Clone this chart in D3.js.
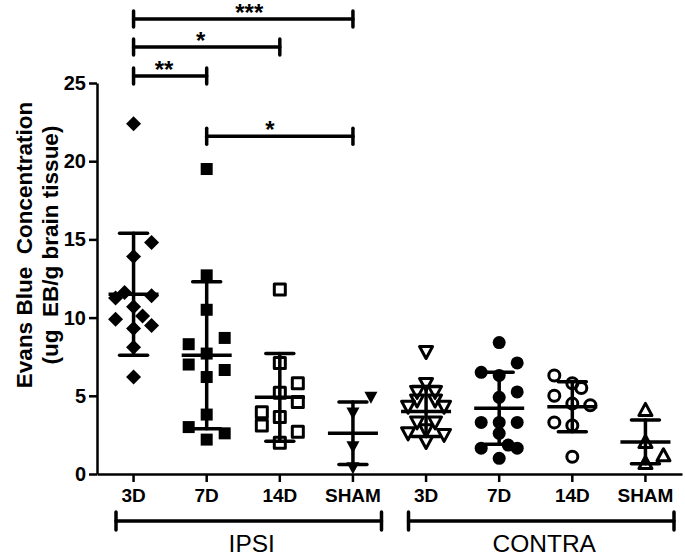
<!DOCTYPE html>
<html><head><meta charset="utf-8">
<script src="https://cdn.jsdelivr.net/npm/d3@7"></script>
<style>html,body{margin:0;padding:0;background:#fff}svg{display:block}</style>
</head><body><svg id="c" width="685" height="557"></svg>
<script>
// ---- data ----
const groups = ["IPSI", "CONTRA"];
const categories = ["IPSI-3D","IPSI-7D","IPSI-14D","IPSI-SHAM","CONTRA-3D","CONTRA-7D","CONTRA-14D","CONTRA-SHAM"];
const categoryLabels = ["3D","7D","14D","SHAM","3D","7D","14D","SHAM"];
const yTicks = [0,5,10,15,20,25];
// [value, column slot]
const ipsi3D = [[22.4,0],[14.8,2],[13.9,0],[11.6,-1],[11.25,-2],[11.4,2],[10.7,0],[9.9,-2],[10.1,1],[9.5,2],[9.3,0],[8.1,0],[6.2,0]];
const ipsi7D = [[19.5,0],[12.7,0],[10.5,0],[8.3,-2],[8.7,2],[7.7,0],[7.0,-2],[6.65,2],[6.2,0],[3.8,0],[3.0,-2],[2.6,2],[2.2,0]];
const ipsi14D = [[11.8,0],[7.1,0],[5.8,2],[5.2,0],[4.6,2],[3.95,-2],[3.65,0],[3.1,-2],[2.7,2],[2.0,0]];
const ipsiSham = [[4.9,2],[3.9,0],[1.75,0],[0.4,0]];
const contra3D = [[7.8,0],[5.75,0],[5.25,-1],[5.25,1],[4.7,-1],[4.7,1],[4.3,-2],[4.3,2],[3.3,-1],[3.3,1],[2.6,-2],[2.8,0],[2.5,2],[2.05,0]];
const contra7D = [[8.4,0],[7.1,2],[6.5,-2],[6.3,0],[5.25,2],[4.9,0],[3.3,-2],[3.3,0],[3.3,2],[2.6,0],[1.65,-2],[1.85,1],[1.65,2],[1.0,0]];
const contra14D = [[6.3,-2],[5.8,0],[5.5,1],[5.0,-2],[4.4,2],[4.5,0],[3.3,-2],[3.1,0],[1.1,0]];
const contraSham = [[4.1,0],[2.05,0],[1.2,2],[0.7,0]];
const seriesValues = [ipsi3D, ipsi7D, ipsi14D, ipsiSham, contra3D, contra7D, contra14D, contraSham];
const markers = ["diamond","square","squareOpen","triDown","triDownOpen","circle","circleOpen","triUpOpen"];
const means = [11.5, 7.6, 4.9, 2.6, 4.0, 4.2, 4.3, 2.05];
const sds = [3.9, 4.7, 2.8, 2.0, 1.6, 2.3, 1.6, 1.4];
const sigFrom = ["IPSI-3D","IPSI-3D","IPSI-3D","IPSI-7D"];
const sigTo = ["IPSI-SHAM","IPSI-14D","IPSI-7D","IPSI-SHAM"];
const sigLabels = ["***","*","**","*"];
const sigLevels = [29.1, 27.3, 25.45, 21.6];
const yTitle = ["Evans Blue  Concentration", "(ug  EB/g brain tissue)"];

// ---- layout ----
const svg = d3.select("#c");
const FONT = "'Liberation Sans', Arial, sans-serif";
const x = d3.scaleBand().domain(categories).range([97, 682]);
const y = d3.scaleLinear().domain([0, 25]).range([474, 83]);
const cx = c => x(c) + x.bandwidth() / 2;
const slot = 9;

// y axis
const ya = svg.append("g").attr("transform", "translate(97,0)")
  .call(d3.axisLeft(y).tickValues(yTicks).tickSize(8).tickSizeOuter(0).tickPadding(3));
ya.select(".domain").attr("stroke-width", 2.5);
ya.selectAll(".tick line").attr("stroke-width", 2.5);
ya.selectAll("text").attr("font-family", FONT).attr("font-weight", "bold").attr("font-size", 20).attr("fill","#000");

// x axis
const xa = svg.append("g").attr("transform", "translate(0,474)")
  .call(d3.axisBottom(x).tickSize(8).tickSizeOuter(0).tickPadding(7).tickFormat((d,i) => categoryLabels[i]));
xa.select(".domain").attr("stroke-width", 2.5);
xa.selectAll(".tick line").attr("stroke-width", 2.5);
xa.selectAll("text").attr("font-family", FONT).attr("font-weight", "bold").attr("font-size", 19).attr("fill","#000");

// group brackets
const groupStart = ["IPSI-3D","CONTRA-3D"], groupEnd = ["IPSI-SHAM","CONTRA-SHAM"];
groups.forEach((g, i) => {
  const x0 = x(groupStart[i]) + 19, x1 = x(groupEnd[i]) + x.bandwidth() - 8;
  const gy = 521;
  const gg = svg.append("g").attr("stroke", "#000").attr("stroke-width", 3.5).attr("stroke-linecap","round");
  gg.append("line").attr("x1", x0).attr("x2", x1).attr("y1", gy).attr("y2", gy);
  gg.append("line").attr("x1", x0).attr("x2", x0).attr("y1", gy - 9).attr("y2", gy + 9);
  gg.append("line").attr("x1", x1).attr("x2", x1).attr("y1", gy - 9).attr("y2", gy + 9);
  svg.append("text").attr("x", (x0 + x1) / 2 + 3).attr("y", 552).attr("text-anchor", "middle")
    .attr("font-family", FONT).attr("font-size", 24.5).text(g);
});

// y title
yTitle.forEach((t, i) => {
  svg.append("text").attr("transform", `translate(${32 + i * 26},245) rotate(-90)`)
    .attr("text-anchor", "middle").attr("font-family", FONT).attr("font-weight", "bold")
    .attr("font-size", 22.5).attr("xml:space","preserve").style("white-space","pre").text(t);
});

// points
function drawMarker(g, type, px, py) {
  const open = type.endsWith("Open");
  const base = type.replace("Open", "");
  let el;
  if (base === "diamond") {
    const r = 7.5;
    el = g.append("path").attr("d", `M${px},${py - r}L${px + r},${py}L${px},${py + r}L${px - r},${py}Z`);
  } else if (base === "square") {
    const h = open ? 5.5 : 6;
    el = g.append("rect").attr("x", px - h).attr("y", py - h).attr("width", 2 * h).attr("height", 2 * h);
  } else if (base === "circle") {
    el = g.append("circle").attr("cx", px).attr("cy", py).attr("r", open ? 5.5 : 6.5);
  } else if (base === "triDown") {
    const w = 6.5, h = 5.5;
    el = g.append("path").attr("d", `M${px - w},${py - h}L${px + w},${py - h}L${px},${py + h + 1}Z`);
  } else if (base === "triUp") {
    const w = 6.5, h = 5.5;
    el = g.append("path").attr("d", `M${px - w},${py + h}L${px + w},${py + h}L${px},${py - h - 1}Z`);
  }
  if (open) el.attr("fill", "none").attr("stroke", "#000").attr("stroke-width", 3).attr("stroke-linejoin","round");
  else el.attr("fill", "#000");
}
const pts = svg.append("g");
categories.forEach((c, i) => {
  seriesValues[i].forEach(([v, s]) => drawMarker(pts, markers[i], cx(c) + s * slot, y(v)));
});

// mean & SD
const eb = svg.append("g").attr("stroke", "#000").attr("stroke-width", 3.5).attr("stroke-linecap","round");
categories.forEach((c, i) => {
  const px = cx(c), m = means[i], sd = sds[i];
  eb.append("line").attr("x1", px).attr("x2", px).attr("y1", y(m + sd)).attr("y2", y(Math.max(0, m - sd)));
  eb.append("line").attr("x1", px - 14).attr("x2", px + 14).attr("y1", y(m + sd)).attr("y2", y(m + sd));
  eb.append("line").attr("x1", px - 14).attr("x2", px + 14).attr("y1", y(m - sd)).attr("y2", y(m - sd));
  eb.append("line").attr("x1", px - 25).attr("x2", px + 25).attr("y1", y(m)).attr("y2", y(m)).attr("stroke-linecap","butt");
});

// significance brackets
sigLabels.forEach((lab, i) => {
  const x0 = cx(sigFrom[i]), x1 = cx(sigTo[i]), yy = y(sigLevels[i]);
  const g = svg.append("g").attr("stroke", "#000").attr("stroke-width", 3.5).attr("stroke-linecap","round");
  g.append("line").attr("x1", x0).attr("x2", x1).attr("y1", yy).attr("y2", yy);
  g.append("line").attr("x1", x0).attr("x2", x0).attr("y1", yy - 8).attr("y2", yy + 8);
  g.append("line").attr("x1", x1).attr("x2", x1).attr("y1", yy - 8).attr("y2", yy + 8);
  svg.append("text").attr("x", (x0 + x1) / 2 + (i === 0 ? 6 : i === 3 ? -10 : -6)).attr("y", yy + 2)
    .attr("text-anchor", "middle").attr("font-family", FONT).attr("font-weight", "bold")
    .attr("font-size", 24).text(lab);
});
</script></body></html>
